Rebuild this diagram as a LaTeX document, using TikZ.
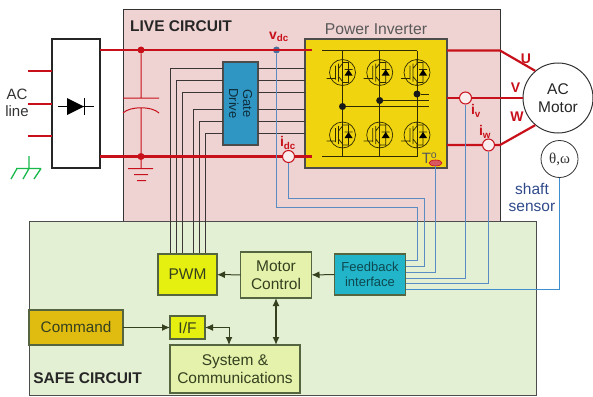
\documentclass[tikz,border=0pt]{standalone}
\usepackage{fontspec}
\setmainfont{Liberation Sans}
\newfontfamily\greekfont{Liberation Serif}
\usetikzlibrary{arrows.meta,calc,shapes.geometric}
\definecolor{livepink}{HTML}{EFD3D2}
\definecolor{safegreen}{HTML}{E4F0D4}
\definecolor{powerred}{HTML}{C8101A}
\definecolor{wireblue}{HTML}{5A8CC4}
\definecolor{shaftblue}{HTML}{3F8FD0}
\definecolor{earthgreen}{HTML}{18B84A}
\definecolor{invyellow}{HTML}{F0D410}
\definecolor{gateblue}{HTML}{2F96C4}
\definecolor{fbcyan}{HTML}{22B5C9}
\definecolor{pwmyellow}{HTML}{E6F010}
\definecolor{cmdgold}{HTML}{E0BB10}
\definecolor{sysgreen}{HTML}{E4F2AC}
\definecolor{boxline}{HTML}{55653F}
\definecolor{darkline}{HTML}{35401F}
\definecolor{sensorblue}{HTML}{2F4A8A}
\newcommand{\fsz}[1]{\fontsize{#1}{#1}\selectfont}
\tikzset{
  block/.style={draw=boxline,line width=1.1pt,inner sep=0pt,outer sep=0pt,align=center,text=darkline},
  busline/.style={powerred,line width=2.2pt},
  thinred/.style={powerred,line width=1pt},
  gateline/.style={black!75!livepink,line width=.8pt},
  fbline/.style={wireblue,line width=1pt},
  ctrl/.style={darkline,line width=1pt,-{Latex[length=8pt,width=7pt]}},
  ctrltwo/.style={darkline,line width=1.4pt,{Latex[length=8pt,width=7pt]}-{Latex[length=8pt,width=7pt]}},
  joint/.style={circle,fill=#1,inner sep=0pt,minimum size=7pt},
  sensor/.style={circle,draw=powerred,fill=livepink!40!white,line width=1pt,inner sep=0pt,minimum size=12pt},
  redlabel/.style={text=powerred,font=\fsz{14}\bfseries},
  igbt/.pic={
    \draw[line width=.7pt,black!80!invyellow] (0,0) circle (13)
      (-16,6) -- (-7,6) (-7,-7) -- (-7,7)
      (-4,-9) -- (-4,9) (-4,-4) -- (0,-9) -- (0,-13) (-4,4) -- (0,9) -- (0,13)
      (0,-10) -- (6,-10) -- (6,10) -- (0,10) (2,-3) -- (10,-3);
    \fill[black] (2,3) -- (10,3) -- (6,-3) -- cycle;
  }
}
\begin{document}
\begin{tikzpicture}[x=1pt,y=-1pt]
\useasboundingbox (0,0) rectangle (593,396);
%regions
\node[draw=black!80,fill=livepink,line width=1pt,minimum width=377pt,minimum height=214pt,inner sep=0pt,outer sep=0pt] (live) at (311.5,116.5) {};
\node[draw=black!70,fill=safegreen,line width=1pt,minimum width=507pt,minimum height=174pt,inner sep=0pt,outer sep=0pt] (safe) at (282.5,308.5) {};
\node[font=\fsz{15.5}\bfseries,text=black!85] (livetxt) at (181,26) {LIVE CIRCUIT};
\node[font=\fsz{15.5}\bfseries,text=black!85] (safetxt) at (87.5,378) {SAFE CIRCUIT};
%power blocks
\node[block,draw=black!85,fill=white,minimum width=48pt,minimum height=129pt] (rect) at (76,103.5) {};
\node[block,draw=black!70,fill=invyellow,minimum width=142pt,minimum height=129pt] (inv) at (376,103.5) {};
\node[font=\fsz{15.7},text=black!65] (invtxt) at (376,29) {Power Inverter};
\node[block,draw=black!70,fill=gateblue,minimum width=35pt,minimum height=83pt] (gate) at (240.5,103.5) {};
\node[rotate=-90,align=center,font=\fsz{13},text=black!70!gateblue] (gatetxt) at (gate.center) {Gate\\[1pt]Drive};
%ac side
\coordinate (ac1) at (28,71); \coordinate (ac2) at (28,104); \coordinate (ac3) at (28,136);
\foreach \n in {ac1,ac2,ac3}
\draw[powerred,line width=2pt] (\n) -- (\n -| rect.west);
\node[align=center,font=\fsz{15},text=black!80] (actxt) at (17,103) {AC\\[2pt]line};
\draw[line width=.7pt] (58,106.5) -- (94,106.5) (84.5,98) -- (84.5,115);
\fill (67,98) -- (67,115) -- (84,106.5) -- cycle;
%earth
\draw[earthgreen,line width=1.3pt] (29,156) -- (29,168.5) (16,168.5) -- (41,168.5) (41,168.5) -- (34,179) (29,168.5) -- (23,179) (17,168.5) -- (11,179);
%dc bus
\coordinate (plus) at (rect.east |- 0,50);
\coordinate (minus) at (rect.east |- 0,156.5);
\coordinate (plusend) at (312,50);
\coordinate (minusend) at (312,156.5);
\node[joint=powerred] (capt) at (141,50) {};
\node[joint=powerred] (capb) at (141,156.5) {};
\node[joint=wireblue!80!black] (vdc) at (276.5,50) {};
\node[sensor] (idc) at (288.5,156.5) {};
%gate wires
\foreach \y/\x in {68/170,80/176,92/182,109/193,121/199,133/205}{
\draw[gateline] (gate.west |- 0,\y) -- (\x,\y) -- (\x,254);
\draw[gateline] (gate.east |- 0,\y) -- (inv.west |- 0,\y);
}
%capacitor
\draw[thinred] (capt) -- (141,98) (123,98) -- (159,98) (123,113) .. controls (130,106) and (152,106) .. (159,113) (141,108) -- (capb) -- (141,168.5) (128,168.5) -- (153,168.5) (134,174.5) -- (148,174.5) (137,180.5) -- (146,180.5);
\draw[busline] (plus) -- (plusend);
\draw[busline] (minus) -- (idc) (idc) -- (minusend);
\node[redlabel] (vdctxt) at (279,37) {v\textsubscript{dc}};
\node[redlabel] (idctxt) at (288,143) {i\textsubscript{dc}};
%inverter
\draw[line width=.9pt,black!80!invyellow] (322,50.5) -- (417,50.5) (322,156.5) -- (417,156.5);
\foreach \x in {342.5,379.7,417}{
\draw[line width=.9pt,black!80!invyellow] (\x,50.5) -- (\x,156.5);
\pic at (\x,72.5) {igbt};
\pic at (\x,135) {igbt};
}
\node[joint=black!90] (legu) at (417,94) {};
\node[joint=black!90] (legv) at (379.7,100.5) {};
\node[joint=black!90] (legw) at (342.5,106.5) {};
\coordinate (outu) at (429,94); \coordinate (outv) at (429,100.5); \coordinate (outw) at (429,106.5);
\draw[line width=.9pt,black!80!invyellow] (legu) -- (outu) (legv) -- (outv) (legw) -- (outw);
\node[font=\fsz{15},text=black!65] (temptxt) at (429.5,158.5) {T\textsuperscript{o}};
\node[ellipse,draw=powerred,fill=powerred!70,minimum width=13pt,minimum height=6pt,inner sep=0pt,line width=.6pt] (temp) at (435.5,163) {};
%motor
\node[circle,draw=black!80,fill=white,line width=1pt,minimum size=70pt,inner sep=0pt,align=center,font=\fsz{15.5},text=black!85] (motor) at (558,98) {AC\\[2pt]Motor};
\node[sensor] (iv) at (465.5,98) {};
\node[sensor] (iw) at (488.5,145) {};
\coordinate (bendu) at (live.east |- 0,50.5);
\coordinate (bendw) at (live.east |- 0,145);
\draw[busline] (inv.east |- bendu) -- (bendu) -- (motor.130);
\draw[busline] (inv.east |- iv) -- (iv) (iv) -- (motor.west);
\draw[busline] (inv.east |- iw) -- (iw) (iw) -- (bendw) -- (motor.230);
\node[redlabel] (utxt) at (526,58.5) {U};
\node[redlabel] (vtxt) at (515.5,88) {V};
\node[redlabel] (wtxt) at (517,117) {W};
\node[redlabel] (ivtxt) at (476,111) {i\textsubscript{v}};
\node[redlabel] (iwtxt) at (485,132) {i\textsubscript{w}};
\node[circle,draw=black!80,fill=white,line width=.8pt,minimum size=37pt,inner sep=0pt,font=\greekfont\fsz{15},text=black!80] (shaft) at (559.5,159) {θ,ω};
\node[align=center,font=\fsz{15.5},text=sensorblue] (shafttxt) at (532,197.5) {shaft\\[2pt]sensor};
%control blocks
\node[block,fill=pwmyellow,minimum width=59pt,minimum height=41pt,font=\fsz{15.5}] (pwm) at (187.5,274.5) {PWM};
\node[block,fill=sysgreen,minimum width=71pt,minimum height=46pt,font=\fsz{15.5}] (motctl) at (276,275) {Motor\\[2pt]Control};
\node[block,fill=fbcyan,minimum width=71pt,minimum height=41pt,font=\fsz{13},text=black!60!fbcyan] (fb) at (370,274.5) {Feedback\\[2pt]interface};
\node[block,fill=cmdgold,minimum width=94pt,minimum height=35pt,font=\fsz{15.3}] (cmd) at (76,327.5) {Command};
\node[block,fill=pwmyellow,minimum width=35pt,minimum height=23pt,font=\fsz{15.5}] (if) at (187.5,327.5) {I/F};
\node[block,fill=sysgreen,minimum width=130pt,minimum height=48pt,font=\fsz{15.5}] (sys) at (235,369) {System \&\\[2pt]Communications};
\draw[ctrl] (fb) -- (motctl);
\draw[ctrl] (motctl) -- (pwm);
\draw[ctrl] (cmd) -- (if);
\draw[ctrltwo] (motctl.south) -- (motctl.south |- sys.north);
\coordinate (ifsys) at (229,327.5);
\draw[ctrl,{Latex[length=8pt,width=7pt]}-{Latex[length=8pt,width=7pt]}] (if.east) -- (ifsys) -- (ifsys |- sys.north);
%feedback wires
\draw[fbline] (vdc) -- (vdc |- 0,207.5) -- (417.5,207.5) -- (417.5,260.5) -- (fb.east |- 0,260.5);
\draw[fbline] (idc) -- (idc |- 0,198.5) -- (424.5,198.5) -- (424.5,266.5) -- (fb.east |- 0,266.5);
\draw[fbline] (temp) -- (temp |- 0,272.5) -- (fb.east |- 0,272.5);
\draw[fbline] (iv) -- (iv |- 0,278.5) -- (fb.east |- 0,278.5);
\draw[fbline] (iw) -- (iw |- 0,283.5) -- (fb.east |- 0,283.5);
\draw[fbline,shaftblue] (shaft) -- (shaft |- 0,289.5) -- (fb.east |- 0,289.5);
\end{tikzpicture}
\end{document}
